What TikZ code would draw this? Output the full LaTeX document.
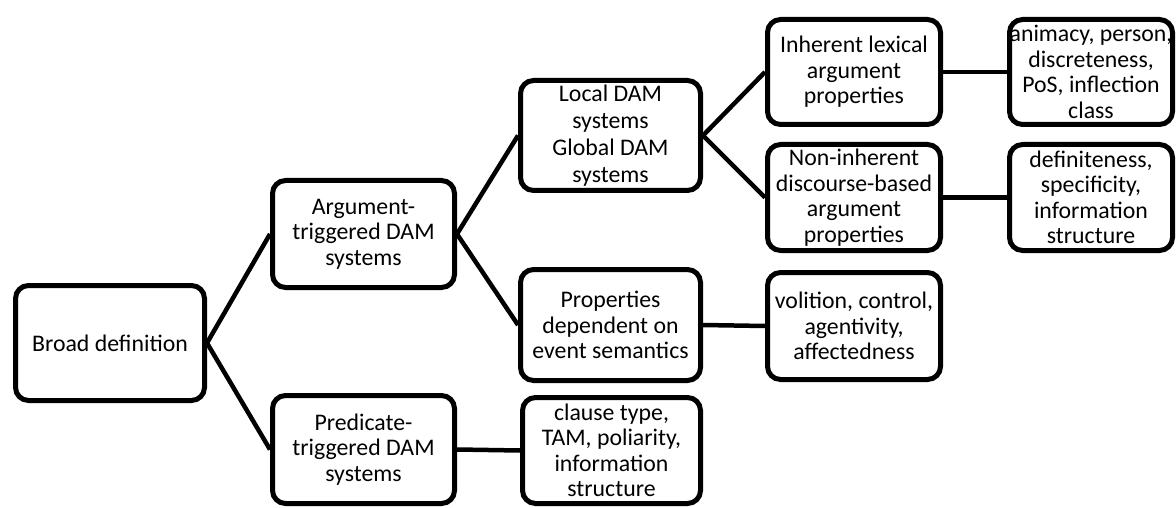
\documentclass[tikz,border=0pt]{standalone}
\usepackage{fontspec}
\setmainfont{Carlito}
\begin{document}
\begin{tikzpicture}[x=1pt,y=-1pt,
  box/.style={draw=black, line width=5pt, rounded corners=13pt, fill=white,
    align=center, inner sep=0pt, font=\fontsize{23.8}{25.5}\selectfont},
  wide/.style={font=\fontsize{23.8}{27}\selectfont},
  link/.style={draw=black, line width=4.5pt}]
\useasboundingbox (0,0) rectangle (1176,508);

% level 0
\node[box, minimum width=189pt, minimum height=115pt] (broad) at (110,343) {Broad definition};

% level 1
\node[box, minimum width=182pt, minimum height=107pt] (arg) at (363.5,234) {Argument-\\triggered DAM\\systems};
\node[box, minimum width=182pt, minimum height=108pt] (pred) at (363.5,449.5) {Predicate-\\triggered DAM\\systems};

% level 2
\node[box, wide, minimum width=180pt, minimum height=110pt] (local) at (610.5,135.5) {Local DAM\\systems\\Global DAM\\systems};
\node[box, minimum width=180pt, minimum height=111pt] (props) at (610.5,325) {Properties\\dependent on\\event semantics};
\node[box, minimum width=178pt, minimum height=106pt] (clause) at (611.5,450.5) {clause type,\\TAM, poliarity,\\information\\structure};

% level 3
\node[box, minimum width=173pt, minimum height=105pt] (inh) at (854,72) {Inherent lexical\\argument\\properties};
\node[box, minimum width=173pt, minimum height=106pt] (noninh) at (854,197.5) {Non-inherent\\discourse-based\\argument\\properties};
\node[box, minimum width=173pt, minimum height=107pt] (vol) at (854,326) {volition, control,\\agentivity,\\affectedness};

% level 4
\node[box, minimum width=163pt, minimum height=105pt] (anim) at (1091,72) {animacy, person,\\discreteness,\\PoS, inflection\\class};
\node[box, minimum width=163pt, minimum height=106pt] (defin) at (1091,197.5) {definiteness,\\specificity,\\information\\structure};

% connectors
\draw[link] (broad.east) -- (arg.west);
\draw[link] (broad.east) -- (pred.west);
\draw[link] (arg.east) -- (local.west);
\draw[link] (arg.east) -- (props.west);
\draw[link] (pred.east) -- (clause.west);
\draw[link] (local.east) -- (inh.west);
\draw[link] (local.east) -- (noninh.west);
\draw[link] (props.east) -- (vol.west);
\draw[link] (inh.east) -- (anim.west);
\draw[link] (noninh.east) -- (defin.west);
\end{tikzpicture}
\end{document}
